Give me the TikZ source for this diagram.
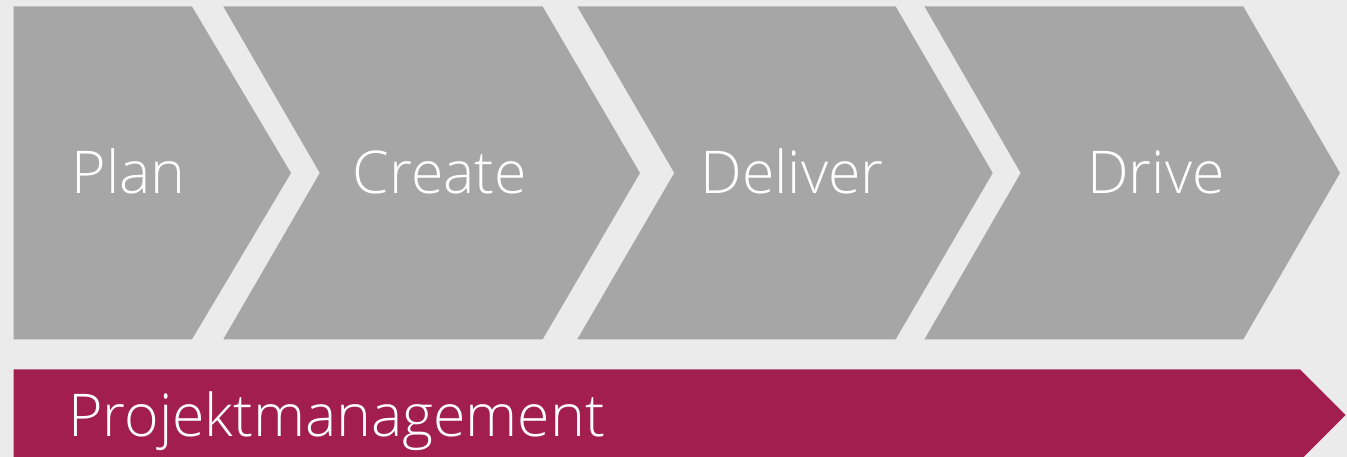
\documentclass[tikz,border=0pt]{standalone}
\usepackage{fontspec}
\setmainfont{Open Sans Light}
\definecolor{bg}{HTML}{EBEBEB}
\definecolor{chev}{HTML}{A6A6A6}
\definecolor{berry}{HTML}{A21F4D}
\begin{document}
\begin{tikzpicture}[x=1pt,y=-1pt,
  chevshape/.style={fill=chev,draw=none},
  barshape/.style={fill=berry,draw=none},
  label/.style={text=white,font=\fontsize{59}{70}\selectfont,anchor=base,inner sep=0pt}]
\useasboundingbox (0,0) rectangle (1347,457);
\clip (0,0) rectangle (1347,457);
\fill[bg] (0,0) rectangle (1347,457);
% chevrons
\fill[chevshape] (13.5,6.5) -- (192,6.5) -- (291,173) -- (192,339.3) -- (13.5,339.3) -- cycle;
\fill[chevshape] (223.3,6.5) -- (542.7,6.5) -- (640,173) -- (542.7,339.3) -- (223.3,339.3) -- (319.8,173) -- cycle;
\fill[chevshape] (577.3,6.5) -- (895.7,6.5) -- (992.7,173) -- (895.7,339.3) -- (577.3,339.3) -- (674.3,173) -- cycle;
\fill[chevshape] (924.5,6.5) -- (1243.3,6.5) -- (1340,173) -- (1243.3,339.3) -- (924.5,339.3) -- (1020.7,173) -- cycle;
% bottom bar
\fill[barshape] (13.5,369.3) -- (1300,369.3) -- (1345.7,415) -- (1300,460.7) -- (13.5,460.7) -- cycle;
% labels
\node[label] (plan) at (128.5,193.3) {Plan};
\node[label] (create) at (440,193.3) {Create};
\node[label] (deliver) at (792,193.3) {Deliver};
\node[label] (drive) at (1156,193.3) {Drive};
\node[label,anchor=base west] (pm) at (68,436) {Projektmanagement};
\end{tikzpicture}
\end{document}
